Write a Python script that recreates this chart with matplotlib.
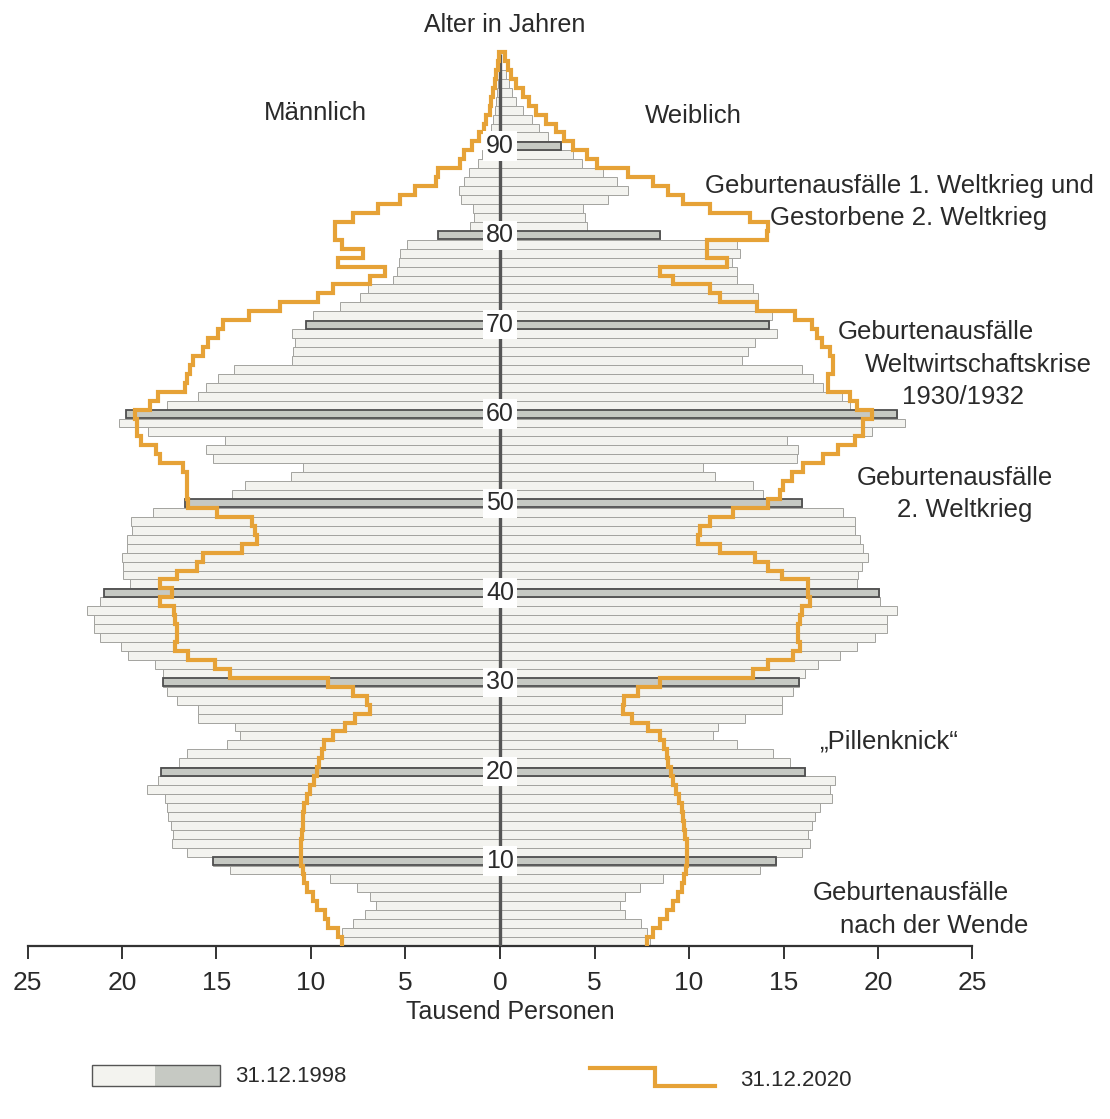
import matplotlib
matplotlib.use("Agg")
import matplotlib.pyplot as plt
import numpy as np
from matplotlib.patches import Rectangle
from matplotlib.lines import Line2D

plt.rcParams['font.family'] = ['Liberation Sans', 'DejaVu Sans']

# Bevoelkerung in Tausend, Alter 1..n (31.12.1998)
m1998 = [8.4, 8.38, 7.76, 7.14, 6.58, 6.9, 7.56, 8.98, 14.3, 15.17,
         16.58, 17.37, 17.28, 17.42, 17.55, 17.64, 17.72, 18.7, 18.08, 17.96,
         16.97, 16.58, 14.46, 13.76, 14.02, 15.96, 16.0, 17.1, 17.6, 17.85,
         17.85, 18.25, 19.66, 20.07, 21.16, 21.5, 21.5, 21.87, 21.16, 20.93,
         19.58, 19.93, 19.93, 20.02, 19.75, 19.72, 19.49, 19.52, 18.34, 16.67,
         14.2, 13.5, 11.07, 10.4, 15.2, 15.57, 14.55, 18.6, 20.14, 19.79,
         17.64, 15.96, 15.57, 14.9, 14.07, 11.02, 10.93, 10.85, 11.02, 10.28,
         9.88, 8.47, 7.41, 6.97, 5.64, 5.47, 5.35, 5.29, 4.94, 3.26,
         1.6, 1.35, 1.45, 2.05, 2.15, 1.9, 1.65, 1.15, 0.95, 0.75,
         0.6, 0.45, 0.35, 0.28, 0.2, 0.15, 0.1]
f1998 = [7.94, 7.8, 7.45, 6.61, 6.35, 6.61, 7.41, 8.64, 13.76, 14.6,
         15.96, 16.4, 16.31, 16.49, 16.67, 16.93, 17.55, 17.46, 17.72, 16.14,
         15.34, 14.46, 12.52, 11.29, 11.55, 12.96, 14.9, 14.9, 15.52, 15.84,
         16.14, 16.84, 17.99, 18.87, 19.84, 20.46, 20.46, 20.99, 20.1, 20.05,
         18.87, 18.96, 19.13, 19.49, 19.22, 19.05, 18.78, 18.78, 18.13, 15.96,
         13.93, 13.4, 11.38, 10.76, 15.7, 15.78, 15.17, 19.66, 21.43, 21.02,
         18.52, 18.08, 17.11, 16.58, 15.96, 12.79, 13.14, 13.49, 14.64, 14.25,
         14.37, 13.58, 13.67, 13.37, 12.52, 12.52, 12.26, 12.7, 12.52, 8.47,
         4.59, 4.5, 4.41, 5.73, 6.79, 6.17, 5.47, 4.32, 3.88, 3.21,
         2.56, 2.08, 1.68, 1.23, 0.85, 0.62, 0.45, 0.3]

# 31.12.2020, Alter 1..100
m2020 = [8.38, 8.55, 9.08, 9.26, 9.7, 9.91, 10.19, 10.37, 10.44, 10.55,
         10.55, 10.55, 10.5, 10.44, 10.4, 10.37, 10.23, 10.05, 9.84, 9.7,
         9.56, 9.44, 9.31, 8.82, 8.2, 7.67, 6.9, 7.05, 7.76, 9.08,
         14.29, 15.08, 16.49, 17.2, 17.11, 17.11, 17.2, 17.25, 17.99, 17.37,
         17.99, 17.11, 16.05, 15.7, 13.67, 12.87, 12.96, 13.14, 14.99, 16.49,
         16.58, 16.58, 16.58, 16.76, 17.99, 18.2, 18.99, 19.22, 19.22, 19.31,
         18.52, 18.08, 16.67, 16.58, 16.4, 16.26, 15.73, 15.43, 14.9, 14.64,
         13.26, 11.64, 9.61, 8.82, 6.88, 6.08, 8.55, 7.23, 8.38, 8.73,
         8.73, 7.76, 6.44, 5.29, 4.5, 3.37, 3.3, 2.1, 1.9, 1.5,
         1.1, 0.85, 0.75, 0.55, 0.45, 0.35, 0.25, 0.2, 0.1, 0.05]
f2020 = [7.76, 8.11, 8.47, 8.82, 9.17, 9.43, 9.61, 9.74, 9.84, 9.88,
         9.91, 9.88, 9.79, 9.74, 9.66, 9.61, 9.49, 9.31, 9.17, 9.03,
         8.91, 8.82, 8.68, 8.47, 7.85, 6.97, 6.53, 6.56, 7.32, 8.47,
         13.4, 14.2, 15.52, 15.87, 15.78, 15.78, 15.87, 15.96, 16.4, 16.3,
         16.3, 14.9, 14.2, 13.49, 11.64, 10.49, 10.58, 11.11, 12.35, 14.2,
         14.81, 14.99, 15.43, 16.05, 17.11, 17.9, 18.78, 19.22, 19.22, 19.66,
         18.87, 18.52, 17.37, 17.37, 17.64, 17.64, 17.46, 17.02, 16.76, 16.49,
         15.61, 13.58, 11.64, 11.11, 9.17, 8.47, 12.0, 10.93, 10.93, 14.11,
         14.2, 13.23, 11.11, 9.7, 8.91, 8.11, 6.79, 5.12, 4.59, 3.86,
         3.4, 2.95, 2.45, 1.9, 1.55, 1.2, 0.85, 0.6, 0.4, 0.25]

decades = [10, 20, 30, 40, 50, 60, 70, 80, 90]
tick_vals = list(range(-25, 26, 5))
tick_labels = [str(abs(v)) for v in tick_vals]

light = '#f3f3ef'
grey = '#c6c9c3'
orange = '#e6a237'
txt = '#2a2a2a'

W, H = 1110, 1119
fig = plt.figure(figsize=(W / 100, H / 100), dpi=100)

def fx(px):
    return px / W

def fy(py):
    return 1 - py / H

ytop = 102
ax = fig.add_axes([fx(27.5), fy(946), 945 / W, ytop * 8.94 / H])
ax.set_xlim(-25, 25)
ax.set_ylim(0, ytop)

# 1998 Balken
am = np.arange(1, len(m1998) + 1)
af = np.arange(1, len(f1998) + 1)
ax.barh(am - 0.5, -np.array(m1998), height=1.0, color=light, edgecolor='#a3a39f', linewidth=0.7, zorder=1)
ax.barh(af - 0.5, np.array(f1998), height=1.0, color=light, edgecolor='#a3a39f', linewidth=0.7, zorder=1)
dm = [m1998[d - 1] for d in decades]
df = [f1998[d - 1] for d in decades]
dy = np.array(decades) - 0.5
ax.barh(dy, -np.array(dm), height=0.9, color=grey, edgecolor='#4f4f4f', linewidth=1.3, zorder=2)
ax.barh(dy, np.array(df), height=0.9, color=grey, edgecolor='#4f4f4f', linewidth=1.3, zorder=2)

# Mittellinie
ax.plot([0, 0], [0, 99.8], color='#555555', lw=2.4, zorder=3, solid_capstyle='butt')

# 2020 Umriss
a20 = np.arange(1, len(m2020) + 1)
yl = np.column_stack([a20 - 1, a20]).ravel()
xl = -np.repeat(m2020, 2)
xr = np.repeat(f2020, 2)[::-1]
ax.plot(np.concatenate([xl, xr]), np.concatenate([yl, yl[::-1]]),
        color=orange, lw=3.0, zorder=4, solid_joinstyle='miter')

for d in decades:
    ax.text(0, d - 0.5, str(d), ha='center', va='center', fontsize=18, color=txt,
            zorder=6, bbox=dict(facecolor='white', edgecolor='none', pad=2.0))

for s in ['top', 'left', 'right']:
    ax.spines[s].set_visible(False)
ax.spines['bottom'].set_color('#333333')
ax.spines['bottom'].set_linewidth(1.6)
ax.set_yticks([])
ax.set_xticks(tick_vals)
ax.set_xticklabels(tick_labels)
ax.tick_params(axis='x', direction='out', length=9, width=1.4, colors='#333333',
               labelsize=19, pad=9, labelcolor=txt)
ax.patch.set_alpha(0)

fig.text(fx(510), fy(1012), 'Tausend Personen', ha='center', va='center', fontsize=18, color=txt)
fig.text(fx(505), fy(25), 'Alter in Jahren', ha='center', va='center', fontsize=18, color=txt)
fig.text(fx(315), fy(113), 'Männlich', ha='center', va='center', fontsize=18.5, color=txt)
fig.text(fx(693), fy(116), 'Weiblich', ha='center', va='center', fontsize=18.5, color=txt)

notes = [
    ('Geburtenausfälle 1. Weltkrieg und', 899, 186),
    ('Gestorbene 2. Weltkrieg', 909, 218),
    ('Geburtenausfälle', 936, 332),
    ('Weltwirtschaftskrise', 978, 365),
    ('1930/1932', 963, 397),
    ('Geburtenausfälle', 955, 478),
    ('2. Weltkrieg', 965, 510),
    ('\u201ePillenknick\u201c', 889, 741),
    ('Geburtenausfälle', 911, 893),
    ('nach der Wende', 934, 926),
]
for s, x, y in notes:
    fig.text(fx(x), fy(y), s, ha='center', va='center', fontsize=18.5, color=txt)

# Legende
fig.add_artist(Rectangle((fx(92), fy(1086)), 63 / W, 21 / H, transform=fig.transFigure,
                         facecolor=light, edgecolor='none'))
fig.add_artist(Rectangle((fx(155), fy(1086)), 65 / W, 21 / H, transform=fig.transFigure,
                         facecolor=grey, edgecolor='none'))
fig.add_artist(Rectangle((fx(92), fy(1086)), 128 / W, 21 / H, transform=fig.transFigure,
                         facecolor='none', edgecolor='#555555', lw=1.0))
fig.text(fx(235), fy(1077), '31.12.1998', ha='left', va='center', fontsize=16, color=txt)
fig.add_artist(Line2D([fx(590), fx(655), fx(655), fx(715)], [fy(1068), fy(1068), fy(1086), fy(1086)],
                      transform=fig.transFigure, color=orange, lw=3.0, solid_joinstyle='miter'))
fig.text(fx(740), fy(1080), '31.12.2020', ha='left', va='center', fontsize=16, color=txt)

fig.savefig('out.png', dpi=100, facecolor='white')
